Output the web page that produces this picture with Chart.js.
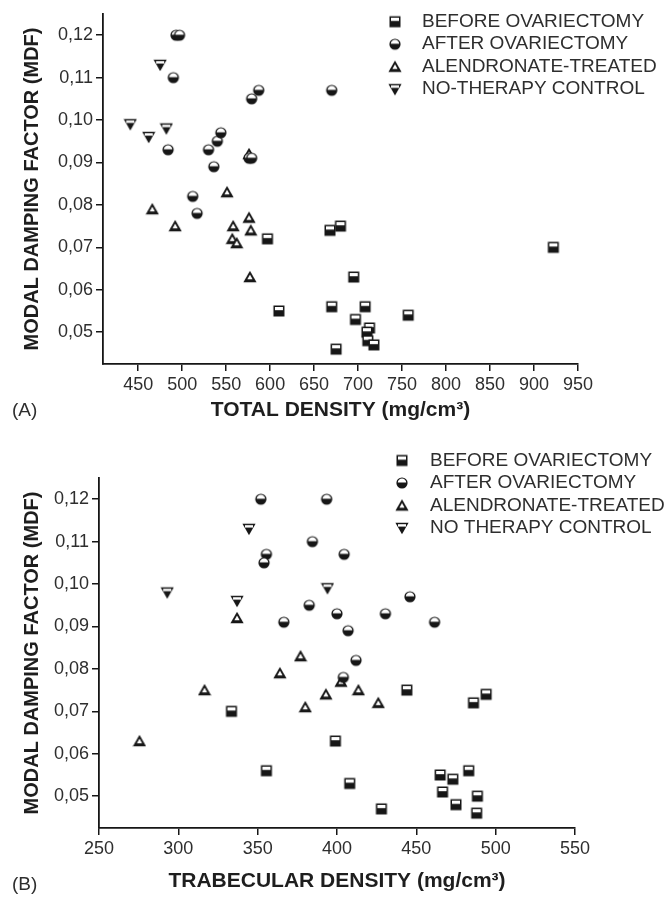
<!DOCTYPE html>
<html>
<head>
<meta charset="utf-8">
<script src="https://cdn.jsdelivr.net/npm/chart.js@4.4.1/dist/chart.umd.min.js"></script>
<style>
  html, body { margin: 0; padding: 0; background: #fff; }
  canvas { display: block; }
</style>
</head>
<body>
<canvas id="chartA" width="667" height="451"></canvas>
<canvas id="chartB" width="667" height="451"></canvas>
<script>
// legend names (panel B spells the last one without the hyphen)
const groupNamesA = ['BEFORE OVARIECTOMY', 'AFTER OVARIECTOMY', 'ALENDRONATE-TREATED', 'NO-THERAPY CONTROL'];
const groupNamesB = ['BEFORE OVARIECTOMY', 'AFTER OVARIECTOMY', 'ALENDRONATE-TREATED', 'NO THERAPY CONTROL'];

const mdfTicks = [0.05, 0.06, 0.07, 0.08, 0.09, 0.10, 0.11, 0.12];
const totalTicks = [450, 500, 550, 600, 650, 700, 750, 800, 850, 900, 950];
const trabTicks = [250, 300, 350, 400, 450, 500, 550];

// (A) total density vs MDF
const totalBeforeX = [597, 668, 680, 695, 610, 670, 708, 697, 675, 713, 710, 711, 718, 757, 922];
const totalBeforeY = [0.072, 0.074, 0.075, 0.063, 0.055, 0.056, 0.056, 0.053, 0.046, 0.051, 0.050, 0.048, 0.047, 0.054, 0.070];
const totalAfterX = [493, 497, 490, 484, 530, 540, 544, 536, 579, 587, 670, 576, 579, 512, 517];
const totalAfterY = [0.120, 0.120, 0.110, 0.093, 0.093, 0.095, 0.097, 0.089, 0.105, 0.107, 0.107, 0.091, 0.091, 0.082, 0.078];
const totalAlenX = [576, 551, 466, 492, 558, 576, 578, 557, 562, 577];
const totalAlenY = [0.092, 0.083, 0.079, 0.075, 0.075, 0.077, 0.074, 0.072, 0.071, 0.063];
const totalNoTherX = [475, 441, 462, 482];
const totalNoTherY = [0.113, 0.099, 0.096, 0.098];

// (B) trabecular density vs MDF
const trabBeforeX = [333.5, 399, 355.5, 408, 428, 444, 486, 494, 465, 473, 483, 466.5, 488.5, 475, 488];
const trabBeforeY = [0.070, 0.063, 0.056, 0.053, 0.047, 0.075, 0.072, 0.074, 0.055, 0.054, 0.056, 0.051, 0.050, 0.048, 0.046];
const trabAfterX = [352, 393.5, 384.5, 355.5, 354, 404.5, 382.5, 366.5, 400, 407, 412, 404, 446, 430.5, 461.5];
const trabAfterY = [0.120, 0.120, 0.110, 0.107, 0.105, 0.107, 0.095, 0.091, 0.093, 0.089, 0.082, 0.078, 0.097, 0.093, 0.091];
const trabAlenX = [337, 377, 364, 316.5, 275.5, 380, 393, 402.5, 413.5, 426];
const trabAlenY = [0.092, 0.083, 0.079, 0.075, 0.063, 0.071, 0.074, 0.077, 0.075, 0.072];
const trabNoTherX = [344.5, 293, 337, 394];
const trabNoTherY = [0.113, 0.098, 0.096, 0.099];

const INK = '#161616';
const TEXT = '#2e2e2e';
const FONT = '"Liberation Sans", Arial, Helvetica, sans-serif';

// half-filled marker glyphs, drawn once on small canvases
function makeMarker(kind) {
    const c = document.createElement('canvas');
    c.width = 14; c.height = 14;
    const g = c.getContext('2d');
    g.fillStyle = INK;
    if (kind === 'square') {
        g.fillRect(1.5, 1.5, 11, 11);
        g.fillStyle = '#fff';
        g.fillRect(3, 3, 8, 3.2);
    } else if (kind === 'circle') {
        g.beginPath();
        g.arc(7, 7, 5.6, 0, Math.PI * 2);
        g.fill();
        g.fillStyle = '#fff';
        g.beginPath();
        g.arc(7, 6.6, 4.2, Math.PI, Math.PI * 2);
        g.fill();
    } else if (kind === 'up') {
        g.beginPath();
        g.moveTo(7, 0.8); g.lineTo(13.6, 12.3); g.lineTo(0.4, 12.3);
        g.closePath(); g.fill();
        g.fillStyle = '#fff';
        g.beginPath();
        g.moveTo(7, 4.6); g.lineTo(9.6, 9.3); g.lineTo(4.4, 9.3);
        g.closePath(); g.fill();
    } else {
        g.beginPath();
        g.moveTo(0.4, 1.7); g.lineTo(13.6, 1.7); g.lineTo(7, 13.2);
        g.closePath(); g.fill();
        g.fillStyle = '#fff';
        g.fillRect(3, 3.2, 8, 2.4);
    }
    return c;
}

const markers = [makeMarker('square'), makeMarker('circle'), makeMarker('up'), makeMarker('down')];

function toPoints(xs, ys) {
    return xs.map((x, i) => ({ x: x, y: ys[i] }));
}

// legend + panel letter drawn inside the canvas
const sideText = {
    id: 'sideText',
    afterDraw(chart, args, opts) {
        const ctx = chart.ctx;
        ctx.save();
        ctx.fillStyle = TEXT;
        ctx.textBaseline = 'middle';
        ctx.textAlign = 'left';
        ctx.font = '19px ' + FONT;
        chart.data.datasets.forEach((ds, i) => {
            const y = opts.top + i * opts.step;
            ctx.drawImage(markers[i], opts.markX - 7, y - 7);
            ctx.fillText(ds.label, opts.textX, y);
        });
        ctx.font = '19px ' + FONT;
        ctx.fillText(opts.letter, opts.letterX, opts.letterY);
        ctx.restore();
    }
};

function makeChart(id, names, series, xTicks, xMin, xMax, xTitle, box) {
    const datasets = series.map((s, i) => ({
        label: names[i],
        data: toPoints(s[0], s[1]),
        pointStyle: markers[i],
        pointRadius: 6,
        pointHoverRadius: 6
    }));
    return new Chart(document.getElementById(id), {
        type: 'scatter',
        data: { datasets },
        options: {
            responsive: false,
            animation: false,
            events: [],
            layout: { padding: { left: 0, right: box.right, top: box.top, bottom: 0 } },
            plugins: {
                legend: { display: false },
                tooltip: { enabled: false },
                sideText: box.legend
            },
            scales: {
                x: {
                    type: 'linear',
                    min: xMin,
                    max: xMax,
                    afterFit: s => { s.height = box.xHeight; },
                    afterBuildTicks: s => { s.ticks = xTicks.map(v => ({ value: v })); },
                    grid: { drawOnChartArea: false, drawTicks: true, tickLength: 7, color: INK, lineWidth: 1.5 },
                    border: { display: true, color: INK, width: 1.8 },
                    ticks: { color: TEXT, padding: 3, font: { family: FONT, size: 18 } },
                    title: {
                        display: true,
                        text: xTitle,
                        color: '#1e1e1e',
                        padding: { top: 0, bottom: box.xTitlePad },
                        font: { family: FONT, size: 21, weight: 'bold' }
                    }
                },
                y: {
                    type: 'linear',
                    min: 0.0425,
                    max: 0.125,
                    afterFit: s => { s.width = box.yWidth; },
                    afterBuildTicks: s => { s.ticks = mdfTicks.map(v => ({ value: v })); },
                    grid: { drawOnChartArea: false, drawTicks: true, tickLength: 7, color: INK, lineWidth: 1.5 },
                    border: { display: true, color: INK, width: 1.8 },
                    ticks: {
                        color: TEXT,
                        padding: 3,
                        font: { family: FONT, size: 18 },
                        callback: v => v.toFixed(2).replace('.', ',')
                    },
                    title: {
                        display: true,
                        text: 'MODAL DAMPING FACTOR (MDF)',
                        color: '#1e1e1e',
                        padding: { top: 20, bottom: 0 },
                        font: { family: FONT, size: 20, weight: 'bold' }
                    }
                }
            }
        },
        plugins: [sideText]
    });
}

makeChart('chartA', groupNamesA, [
    [totalBeforeX, totalBeforeY],
    [totalAfterX, totalAfterY],
    [totalAlenX, totalAlenY],
    [totalNoTherX, totalNoTherY]
], totalTicks, 410, 950, 'TOTAL DENSITY (mg/cm³)', {
    right: 89, top: 14, yWidth: 103, xHeight: 87, xTitlePad: 28,
    legend: { markX: 395, textX: 422, top: 21.7, step: 22.5, letter: '(A)', letterX: 12, letterY: 411 }
});

makeChart('chartB', groupNamesB, [
    [trabBeforeX, trabBeforeY],
    [trabAfterX, trabAfterY],
    [trabAlenX, trabAlenY],
    [trabNoTherX, trabNoTherY]
], trabTicks, 250, 550, 'TRABECULAR DENSITY (mg/cm³)', {
    right: 92, top: 27, yWidth: 99, xHeight: 74, xTitlePad: 8,
    legend: { markX: 402, textX: 430, top: 9.5, step: 22.5, letter: '(B)', letterX: 12, letterY: 434 }
});
</script>
</body>
</html>
